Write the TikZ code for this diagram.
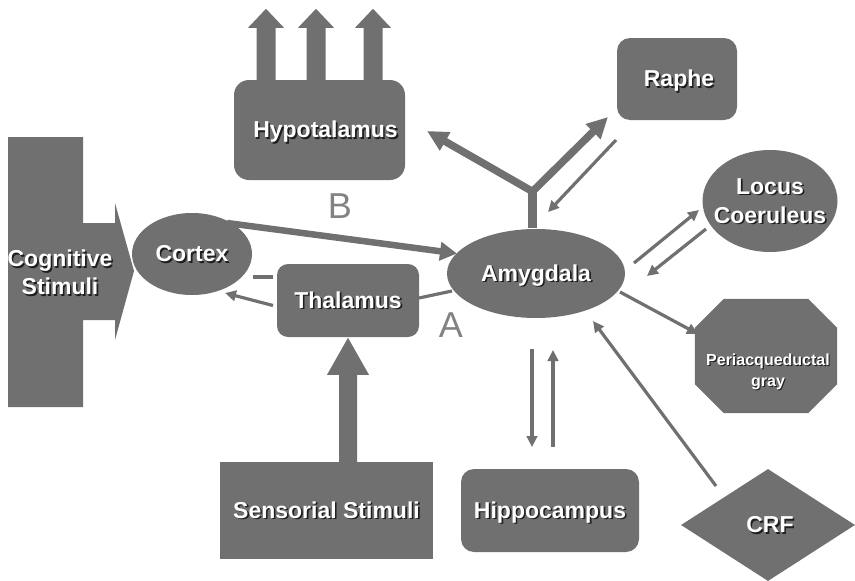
\documentclass[tikz,border=0pt]{standalone}
\usepackage{fontspec}
\setmainfont{Liberation Sans}
\usetikzlibrary{shapes.geometric,arrows.meta,calc,backgrounds}
\definecolor{boxgray}{HTML}{707070}
\definecolor{shadowc}{HTML}{1E1E1E}
\definecolor{lblgray}{HTML}{828282}
\newcommand\shdxy[3]{\raisebox{\dimexpr-0.36em-#2\relax}[0pt][0pt]{\makebox[0pt]{\kern#1\kern#1\rlap{\kern0.07em\raisebox{-0.07em}{\color{shadowc}\begin{tabular}{@{}c@{}}#3\end{tabular}}}{\color{white}\begin{tabular}{@{}c@{}}#3\end{tabular}}}}}
\newcommand\shd[1]{\shdxy{0pt}{0pt}{#1}}
\begin{document}
\begin{tikzpicture}[x=1pt,y=-1pt,
  txt/.style={inner sep=0pt, font=\fontsize{23}{28}\selectfont\bfseries},
  shp/.style={txt, fill=boxgray, draw=none},
  rbox/.style={shp, rectangle, rounded corners=#1},
  ell/.style={shp, ellipse},
  thinarr/.style={draw=boxgray, line width=3.2pt, -{Triangle[length=11pt,width=10.5pt]}},
  thinline/.style={draw=boxgray, line width=3.2pt},
  thickarr/.style={draw=boxgray, line width=6.5pt, -{Triangle[length=17pt,width=18pt]}},
  forkarr/.style={draw=boxgray, line width=7.5pt, line join=miter, {Triangle[length=21pt,width=20pt]}-{Triangle[length=21pt,width=20pt]}},
  lbl/.style={text=lblgray, font=\fontsize{36}{36}\selectfont, inner sep=0pt}
]
\useasboundingbox (0,0) rectangle (855,581);

% Cognitive stimuli shape
\fill[boxgray] (8,137) -- (83,137) -- (83,223) -- (115,223) -- (115,203) -- (134,271) -- (115,340) -- (115,320) -- (83,320) -- (83,407) -- (8,407) -- cycle;
\node[txt] (cog) at (60,273) {\shd{Cognitive\\Stimuli}};

% nodes
\node[rbox=15, minimum width=171, minimum height=100] (hypo) at (319.5,130) {\shdxy{6pt}{0pt}{Hypotalamus}};
\node[rbox=11, minimum width=142, minimum height=73] (thal) at (348,300.5) {\shd{Thalamus}};
\node[shp, rectangle, minimum width=213, minimum height=97] (sens) at (326.5,510.5) {\shd{Sensorial Stimuli}};
\node[rbox=13, minimum width=120, minimum height=82] (raphe) at (677,79) {\shdxy{2pt}{0pt}{Raphe}};
\node[rbox=13, minimum width=178, minimum height=83] (hippo) at (550,510.5) {\shd{Hippocampus}};
\node[ell, minimum width=120, minimum height=82] (cortex) at (192,254) {\shd{Cortex}};
\node[ell, minimum width=178, minimum height=89] (amy) at (536,273.5) {\shd{Amygdala}};
\node[ell, minimum width=135, minimum height=102, font=\fontsize{23}{29}\selectfont\bfseries] (locus) at (770,201) {\shd{Locus\\Coeruleus}};
\node[txt, minimum width=142, minimum height=114, font=\fontsize{16}{21}\selectfont\bfseries] (pag) at (766,356) {\shdxy{2pt}{14pt}{Periacqueductal\\gray}};
\node[shp, diamond, minimum width=174, minimum height=112] (crf) at (768,525) {\shdxy{2pt}{0pt}{CRF}};

\begin{scope}[on background layer]
\fill[boxgray] ($(pag.north west)+(29,0)$) -- ($(pag.north east)+(-29,0)$) -- ($(pag.north east)+(0,29)$) -- ($(pag.south east)+(0,-29)$) -- ($(pag.south east)+(-29,0)$) -- ($(pag.south west)+(29,0)$) -- ($(pag.south west)+(0,-29)$) -- ($(pag.north west)+(0,29)$) -- cycle;
\end{scope}

% labels
\node[lbl] (labB) at (340,206) {B};
\node[lbl] (labA) at (451,325) {A};

% hypothalamus outputs
\foreach \dx in {-53.5,-3.5,53.5}
  \fill[boxgray] ($(hypo.north)+(\dx,4)$) ++(-9.5,0) -- ++(0,-56) -- ++(-8.5,0) -- ++(18,-19) -- ++(18,19) -- ++(-8.5,0) -- ++(0,56) -- cycle;

% sensorial stimuli to thalamus
\fill[boxgray] ($(sens.north -| thal.south)+(-9,2)$) -- ++(0,-89) -- ++(-12,0) -- ++(21,-37) -- ++(21,37) -- ++(-12,0) -- ++(0,89) -- cycle;

% connectors
\draw[thickarr] ($(cortex)+(35,-31)$) -- ($(amy)+(-79,-20)$);
\draw[thinarr] ($(thal)+(-75,5)$) -- ($(cortex)+(33,39)$);
\draw[thinline] ($(thal)+(-75,-23.5)$) -- ($(cortex)+(61,23)$);
\draw[thinline] ($(thal)+(71,-2.5)$) -- ($(amy)+(-84,17.5)$);

\coordinate (forkpt) at ($(amy)+(-3.5,-82)$);
\draw[boxgray, line width=9pt] ($(amy)+(-3.5,-46)$) -- (forkpt);
\draw[forkarr] ($(hypo)+(107.5,1)$) -- (forkpt) -- ($(raphe)+(-69,38)$);

\draw[thinarr] ($(raphe)+(-61,61)$) -- ($(amy)+(12,-61.5)$);
\draw[thinarr] ($(amy)+(98,-10.5)$) -- ($(locus)+(-71,9)$);
\draw[thinarr] ($(locus)+(-64,28)$) -- ($(amy)+(111,2.5)$);
\draw[thinarr] ($(amy)+(84,18.5)$) -- ($(pag)+(-68,-22)$);
\draw[thinarr] ($(crf)+(-52,-39)$) -- ($(amy)+(57,47.5)$);
\draw[thinarr] ($(amy)+(-4,75.5)$) -- ($(hippo)+(-18,-63.5)$);
\draw[thinarr] ($(hippo)+(3,-63.5)$) -- ($(amy)+(17,76.5)$);
\end{tikzpicture}
\end{document}
